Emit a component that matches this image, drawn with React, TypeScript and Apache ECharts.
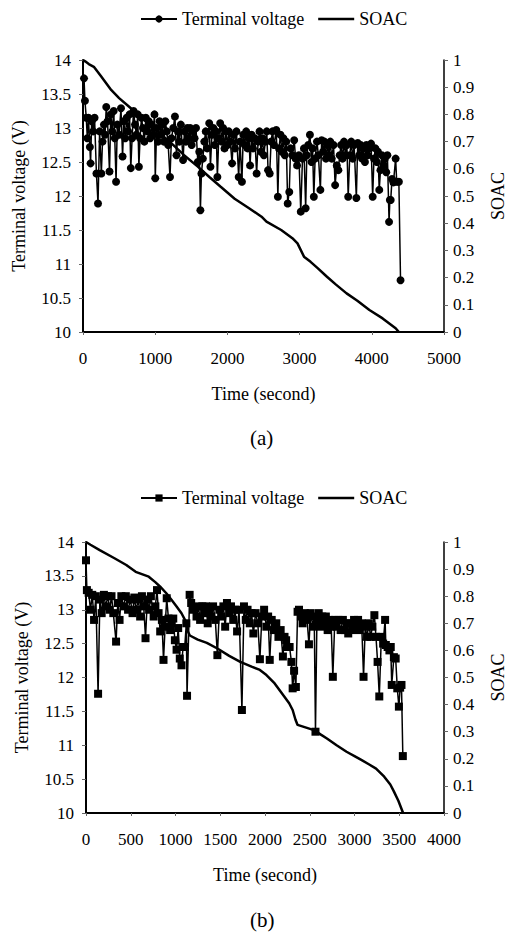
import React, { useEffect, useRef } from "react";
import * as echarts from "echarts";

// ---------- Chart (a) ----------
const timeA = [14,27,45,60,75,95,105,120,140,160,186,208,230,254,270,290,305,322,340,367,385,405,425,440,458,475,500,526,548,565,585,605,625,645,662,680,700,720,740,758,774,790,810,830,850,870,890,910,930,950,970,990,1001,1020,1040,1060,1080,1100,1120,1140,1160,1180,1205,1225,1250,1273,1295,1315,1335,1355,1386,1405,1425,1445,1465,1485,1505,1525,1545,1565,1590,1610,1626,1640,1660,1680,1700,1720,1748,1765,1785,1805,1825,1845,1861,1880,1900,1920,1940,1960,1980,2000,2020,2040,2065,2085,2105,2125,2156,2175,2201,2220,2240,2260,2280,2300,2314,2335,2355,2380,2405,2425,2445,2465,2485,2505,2525,2545,2563,2586,2605,2625,2645,2677,2699,2715,2735,2755,2775,2795,2815,2835,2857,2875,2900,2925,2945,2965,2990,3016,3040,3060,3084,3100,3120,3143,3165,3180,3197,3215,3240,3260,3288,3305,3325,3345,3365,3385,3405,3425,3445,3470,3492,3515,3537,3555,3575,3595,3615,3635,3655,3673,3695,3715,3735,3755,3786,3805,3825,3845,3865,3885,3905,3925,3945,3965,3990,4012,4030,4050,4070,4085,4103,4120,4140,4160,4180,4200,4216,4239,4250,4262,4280,4300,4330,4345,4375,4398];
const voltA = [13.73,13.40,13.15,12.85,13.15,12.72,12.48,13.10,12.95,13.15,12.33,11.89,12.95,12.33,12.80,13.05,12.90,13.31,13.10,12.36,13.20,12.95,13.25,12.85,12.21,13.05,12.90,13.29,12.58,13.10,12.85,13.15,12.95,13.20,12.41,12.85,13.25,13.05,12.90,13.20,12.43,12.85,13.15,13.00,12.80,13.15,12.95,13.10,12.85,13.05,12.90,13.20,12.26,13.00,12.80,13.10,12.90,13.05,12.80,13.10,12.95,12.75,12.28,12.85,13.00,13.17,12.60,12.95,12.80,13.05,12.53,12.95,12.80,13.00,12.85,13.00,12.75,12.95,12.85,13.00,12.50,12.65,11.79,12.33,12.55,12.80,12.95,12.70,13.07,12.43,12.90,13.00,12.75,12.95,12.28,12.85,13.07,12.80,13.00,12.70,12.95,12.75,12.95,12.80,12.48,12.90,12.70,12.95,12.28,12.80,12.21,12.90,12.75,12.95,12.70,12.85,12.45,12.90,12.70,12.85,12.33,12.80,12.95,12.65,12.85,12.60,12.80,12.95,12.38,12.33,12.80,12.95,12.75,12.97,11.99,12.70,12.90,12.65,12.85,12.60,12.80,11.89,12.06,12.70,12.60,12.82,12.55,12.45,12.60,11.77,12.55,12.70,11.82,12.60,12.75,12.90,12.50,12.70,11.99,12.55,12.80,12.60,12.09,12.82,12.65,12.80,12.55,12.75,12.60,12.80,12.55,12.75,12.16,12.45,12.38,12.60,12.75,12.55,12.80,12.60,12.75,11.99,12.60,12.80,12.55,12.75,11.97,12.78,12.60,12.75,12.55,12.70,12.50,12.75,12.60,12.70,12.77,11.99,12.55,12.70,12.50,12.65,12.09,12.38,12.60,12.45,12.55,12.35,12.60,11.62,11.94,11.94,12.25,12.20,12.55,12.21,12.21,10.76];
const soacTimeA = [0,30,80,150,250,390,500,639,800,1000,1200,1400,1590,1750,1907,2100,2300,2473,2541,2745,2900,2971,3061,3152,3250,3379,3500,3651,3800,3967,4150,4330,4375];
const soacA = [1.0,0.995,0.985,0.975,0.94,0.89,0.86,0.828,0.79,0.745,0.70,0.65,0.608,0.57,0.534,0.49,0.455,0.424,0.406,0.375,0.345,0.326,0.277,0.258,0.235,0.203,0.175,0.142,0.115,0.081,0.05,0.014,0.0];

// ---------- Chart (b) ----------
const timeB = [0,10,30,50,70,90,110,135,155,175,200,220,245,265,285,305,336,355,375,395,420,445,470,495,520,540,560,585,605,625,645,665,685,705,725,756,775,793,811,829,848,866,884,902,921,940,958,975,993,1012,1030,1048,1067,1085,1103,1121,1129,1158,1175,1195,1213,1235,1255,1275,1300,1320,1340,1360,1380,1400,1420,1445,1468,1490,1510,1535,1555,1575,1600,1620,1645,1665,1688,1710,1742,1765,1785,1805,1830,1850,1870,1895,1920,1943,1965,1990,2015,2035,2053,2075,2100,2126,2150,2175,2200,2218,2236,2255,2275,2295,2309,2325,2345,2364,2380,2400,2420,2445,2470,2491,2510,2535,2550,2564,2580,2600,2620,2640,2660,2680,2700,2720,2740,2758,2780,2800,2820,2845,2870,2890,2910,2930,2950,2975,2995,3020,3040,3060,3080,3101,3120,3140,3160,3180,3200,3222,3240,3258,3277,3300,3320,3342,3350,3370,3390,3405,3416,3440,3460,3478,3496,3510,3525,3540];
const voltB = [13.73,13.29,13.25,13.00,13.22,12.85,13.20,11.76,13.15,12.95,13.22,13.05,13.20,13.00,13.20,12.95,12.53,13.10,12.85,13.20,13.05,13.20,13.00,13.15,12.95,13.18,13.00,13.15,12.90,13.20,13.05,12.58,13.15,13.00,13.20,12.90,13.05,13.29,12.95,12.68,12.85,12.26,12.75,13.17,12.87,12.70,12.80,12.87,12.55,12.41,12.73,12.28,12.18,12.45,12.45,12.80,11.73,13.22,13.10,13.00,13.04,12.90,13.05,12.85,13.05,12.95,13.05,12.80,13.00,12.90,13.05,12.85,12.33,13.00,12.90,13.05,12.75,13.10,12.95,13.05,12.85,13.00,12.68,13.00,11.52,13.05,12.85,13.00,12.80,12.95,12.65,12.95,12.80,12.27,12.90,13.00,12.75,12.90,12.26,12.85,12.70,12.80,12.60,12.70,12.31,12.60,12.55,12.45,12.45,12.23,11.84,12.10,11.86,12.97,13.00,12.90,12.80,12.95,12.85,12.49,12.95,12.75,12.90,11.20,12.85,12.95,12.75,12.90,12.80,12.90,12.70,12.85,12.75,12.01,12.85,12.75,12.85,12.70,12.85,12.70,12.80,12.65,12.80,12.70,12.85,12.75,12.85,12.70,12.80,12.01,12.75,12.60,12.80,12.60,12.75,12.92,12.60,12.23,11.72,12.60,12.50,12.85,12.48,12.45,12.40,12.45,11.89,12.30,12.28,11.84,11.57,11.85,11.89,10.84];
const soacTimeB = [0,50,153,318,450,555,701,774,829,900,957,1012,1067,1110,1140,1160,1249,1350,1468,1600,1724,1850,1943,2016,2108,2217,2270,2309,2340,2364,2460,2546,2620,2692,2800,2911,3000,3076,3160,3241,3332,3400,3441,3490,3543];
const soacB = [1.0,0.99,0.97,0.94,0.915,0.89,0.872,0.852,0.835,0.81,0.786,0.762,0.737,0.71,0.669,0.655,0.64,0.628,0.607,0.58,0.558,0.54,0.528,0.509,0.478,0.429,0.405,0.38,0.345,0.325,0.315,0.306,0.29,0.275,0.25,0.226,0.21,0.196,0.18,0.164,0.134,0.105,0.079,0.045,0.0];

const voltTicksLeft = { min: 10, max: 14, interval: 0.5 };
const soacTicks = { min: 0, max: 1, interval: 0.1 };
const xTicksA = { min: 0, max: 5000, interval: 1000 };
const xTicksB = { min: 0, max: 4000, interval: 500 };

const FONT = "'Liberation Serif', 'Times New Roman', Times, serif";

function pairs(xs: number[], ys: number[]) {
  return xs.map((x, i) => [x, ys[i]]);
}

export default function App() {
  const ref = useRef<HTMLDivElement>(null);
  useEffect(() => {
    if (!ref.current) return;
    const chart = echarts.init(ref.current, null, { renderer: "svg" });
    const axisText = { color: "#000", fontFamily: FONT, fontSize: 17 };
    const nameText = { color: "#000", fontFamily: FONT, fontSize: 18 };
    const plain = (v: number) => String(v);
    const xAxisCommon = (gridIndex: number, t: any) => ({
      type: "value",
      gridIndex,
      ...t,
      name: "Time (second)",
      nameLocation: "middle",
      nameGap: 53,
      nameTextStyle: nameText,
      axisLine: { show: true, onZero: false, lineStyle: { color: "#000", width: 2 } },
      axisTick: { show: true, length: 3, lineStyle: { color: "#666" } },
      axisLabel: { ...axisText, margin: 18, formatter: plain },
      splitLine: { show: false },
    });
    const yLeft = (gridIndex: number) => ({
      type: "value",
      gridIndex,
      ...voltTicksLeft,
      name: "Terminal voltage (V)",
      nameLocation: "middle",
      nameGap: 55,
      nameRotate: 90,
      nameTextStyle: nameText,
      axisLine: { show: true, onZero: false, lineStyle: { color: "#000", width: 2 } },
      axisTick: { show: true, length: 4, lineStyle: { color: "#666" } },
      axisLabel: { ...axisText, margin: 12, formatter: plain },
      splitLine: { show: false },
    });
    const yRight = (gridIndex: number) => ({
      type: "value",
      gridIndex,
      position: "right",
      ...soacTicks,
      name: "SOAC",
      nameLocation: "middle",
      nameGap: 45,
      nameRotate: 90,
      nameTextStyle: nameText,
      axisLine: { show: true, onZero: false, lineStyle: { color: "#000", width: 1.5 } },
      axisTick: { show: true, length: 4, lineStyle: { color: "#666" } },
      axisLabel: { ...axisText, margin: 9, formatter: plain },
      splitLine: { show: false },
    });
    const soacIcon = "path://M0,0 L40,0 L40,3 L0,3 Z";
    const legendCommon = (top: number) => ({
      top,
      left: 135,
      itemWidth: 36,
      itemHeight: 9,
      itemGap: 14,
      textStyle: { color: "#000", fontFamily: FONT, fontSize: 18 },
      formatter: (n: string) => n.split("#")[0],
      inactiveColor: "#000",
    });
    chart.setOption({
      animation: false,
      backgroundColor: "#fff",
      grid: [
        { left: 83, width: 368, top: 60, height: 272 },
        { left: 86, width: 365, top: 542, height: 271 },
      ],
      legend: [
        {
          ...legendCommon(5),
          data: ["Terminal voltage#a", { name: "SOAC#a", icon: soacIcon, itemStyle: { color: "#000" } }],
        },
        {
          ...legendCommon(484),
          data: ["Terminal voltage#b", { name: "SOAC#b", icon: soacIcon, itemStyle: { color: "#000" } }],
        },
      ],
      xAxis: [xAxisCommon(0, xTicksA), xAxisCommon(1, xTicksB)],
      yAxis: [yLeft(0), yRight(0), yLeft(1), yRight(1)],
      graphic: [
        { type: "text", left: 250, top: 427, style: { text: "(a)", fill: "#000", font: `21px ${FONT}` } },
        { type: "text", left: 250, top: 909, style: { text: "(b)", fill: "#000", font: `21px ${FONT}` } },
      ],
      series: [
        {
          name: "Terminal voltage#a",
          type: "line",
          xAxisIndex: 0,
          yAxisIndex: 0,
          data: pairs(timeA, voltA),
          symbol: "circle",
          symbolSize: 8,
          showAllSymbol: true,
          lineStyle: { color: "#000", width: 1.5 },
          itemStyle: { color: "#000" },
          z: 3,
        },
        {
          name: "SOAC#a",
          type: "line",
          xAxisIndex: 0,
          yAxisIndex: 1,
          data: pairs(soacTimeA, soacA),
          symbol: "none",
          lineStyle: { color: "#000", width: 2.5 },
          itemStyle: { color: "#000" },
          z: 2,
        },
        {
          name: "Terminal voltage#b",
          type: "line",
          xAxisIndex: 1,
          yAxisIndex: 2,
          data: pairs(timeB, voltB),
          symbol: "rect",
          symbolSize: 8,
          showAllSymbol: true,
          lineStyle: { color: "#000", width: 1.5 },
          itemStyle: { color: "#000" },
          z: 3,
        },
        {
          name: "SOAC#b",
          type: "line",
          xAxisIndex: 1,
          yAxisIndex: 3,
          data: pairs(soacTimeB, soacB),
          symbol: "none",
          lineStyle: { color: "#000", width: 2.5 },
          itemStyle: { color: "#000" },
          z: 2,
        },
      ],
    });
    return () => chart.dispose();
  }, []);
  return (
    <div
      ref={ref}
      style={{ position: "absolute", left: 0, top: 0, width: 515, height: 940, background: "#fff" }}
    />
  );
}
